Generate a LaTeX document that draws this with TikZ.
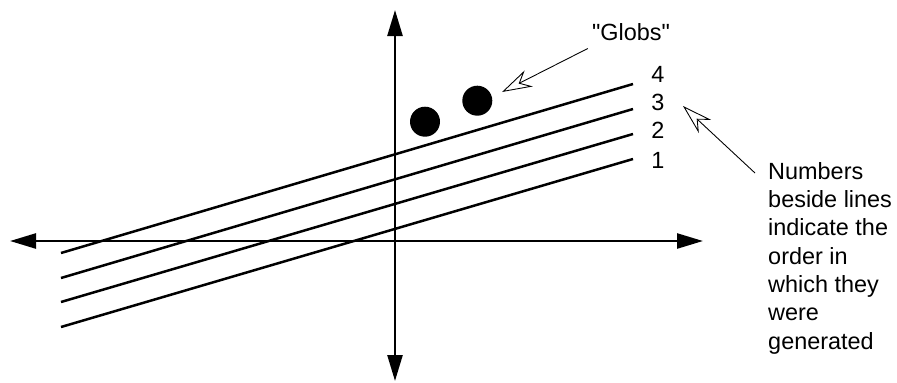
\documentclass[tikz,border=0pt]{standalone}
\usepackage{fontspec}
\setmainfont{Liberation Sans}[Ligatures=TeXOff]
\usetikzlibrary{arrows.meta}

\tikzset{lbl/.style={font=\fontsize{20}{24.2}\selectfont, inner sep=0pt},
  pointer/.style={line width=0.75pt, -{Stealth[open, length=9mm, width=5.4mm, inset=3mm, line width=0.75pt]}}}

\begin{document}
\begin{tikzpicture}[x=0.3mm,y=-0.3mm]
  \useasboundingbox (0,0) rectangle (897,382);
  \draw[line width=0.75mm, {Triangle[length=7.8mm,width=4.5mm]}-{Triangle[length=7.8mm,width=4.5mm]}] (10,241) -- (703,241);
  \draw[line width=0.75mm, {Triangle[length=7.8mm,width=4.5mm]}-{Triangle[length=7.8mm,width=4.5mm]}] (395,10) -- (395,381);
  \draw[line width=0.75mm] (61,327) -- (633,159); \draw[line width=0.75mm] (61,302) -- (633,134);
  \draw[line width=0.75mm] (61,278) -- (633,109); \draw[line width=0.75mm] (61,253) -- (633,84);
  \node[lbl] (n1) at (658,160) {1}; \node[lbl] (n2) at (658,130) {2}; \node[lbl] (n3) at (658,102.5) {3}; \node[lbl] (n4) at (658,74.5) {4};
  \fill (425,121.7) circle[radius=15]; \fill (477.3,100.7) circle[radius=15];
  \node[lbl, anchor=base] (globs) at (631,40) {"Globs"};
  \coordinate (globtip) at (502,92); \draw[pointer] ([shift={(-4,8)}]globs.south west) -- (globtip);
  \node[lbl, anchor=north west, align=left] (note) at (768,162) {Numbers\\beside lines\\indicate the\\order in\\which they\\were\\generated};
  \coordinate (notetip) at (683,106); \draw[pointer] ([shift={(-13,11)}]note.north west) -- (notetip);
\end{tikzpicture}
\end{document}
